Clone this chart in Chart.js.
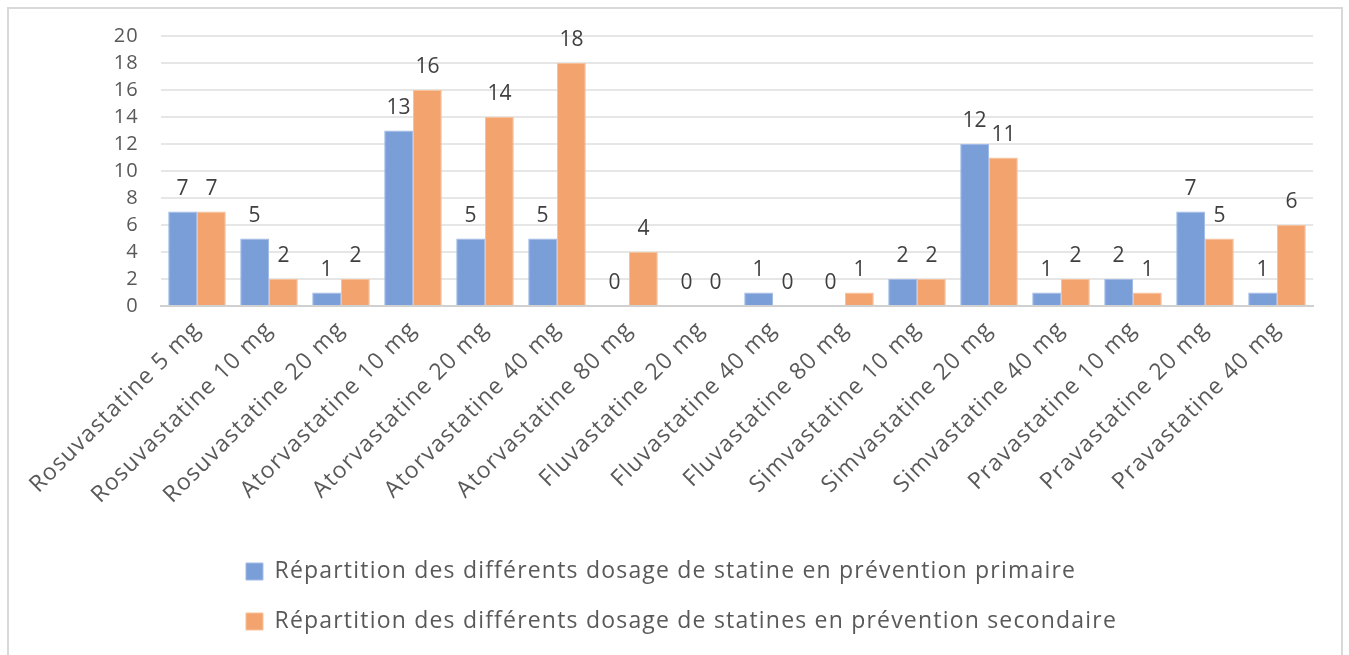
<!DOCTYPE html>
<html>
<head>
<meta charset="utf-8">
<script src="https://cdn.jsdelivr.net/npm/chart.js@4/dist/chart.umd.min.js"></script>
<style>
  html, body { margin: 0; padding: 0; background: #ffffff; }
  #wrap { position: relative; width: 1349px; height: 655px; overflow: hidden; background: #ffffff; }
  #frame { position: absolute; left: 7px; top: 7px; width: 1332px; height: 700px; border: 2px solid #d9d9d9; box-sizing: content-box; }
  canvas { position: absolute; left: 0; top: 0; }
</style>
</head>
<body>
<div id="wrap">
  <div id="frame"></div>
  <canvas id="chart" width="1349" height="655"></canvas>
</div>
<script>
// Dosages de statines
const categories = [
  'Rosuvastatine 5 mg', 'Rosuvastatine 10 mg', 'Rosuvastatine 20 mg',
  'Atorvastatine 10 mg', 'Atorvastatine 20 mg', 'Atorvastatine 40 mg', 'Atorvastatine 80 mg',
  'Fluvastatine 20 mg', 'Fluvastatine 40 mg', 'Fluvastatine 80 mg',
  'Simvastatine 10 mg', 'Simvastatine 20 mg', 'Simvastatine 40 mg',
  'Pravastatine 10 mg', 'Pravastatine 20 mg', 'Pravastatine 40 mg'
];
const primaire   = [7, 5, 1, 13, 5, 5, 0, 0, 1, 0, 2, 12, 1, 2, 7, 1];
const secondaire = [7, 2, 2, 16, 14, 18, 4, 0, 0, 1, 2, 11, 2, 1, 5, 6];
const seriesNames = [
  'Répartition des différents dosage de statine en prévention primaire',
  'Répartition des différents dosage de statines en prévention secondaire'
];
const yTicks = [0, 2, 4, 6, 8, 10, 12, 14, 16, 18, 20];

const FONT = "'Open Sans', 'Liberation Sans', sans-serif";
const TEXT_SPACING = '1.2px';

// Slightly open letter spacing for the category and legend text
const textSpacing = {
  id: 'textSpacing',
  beforeInit(chart) { chart.ctx.letterSpacing = TEXT_SPACING; },
  beforeUpdate(chart) { chart.ctx.letterSpacing = TEXT_SPACING; },
  beforeDraw(chart) { chart.ctx.letterSpacing = TEXT_SPACING; }
};

// Value labels above each bar
const valueLabels = {
  id: 'valueLabels',
  afterDatasetsDraw(chart) {
    const ctx = chart.ctx;
    ctx.save();
    ctx.letterSpacing = '0px';
    ctx.font = '21px ' + FONT;
    ctx.fillStyle = '#404040';
    ctx.textAlign = 'center';
    ctx.textBaseline = 'alphabetic';
    chart.data.datasets.forEach((ds, di) => {
      chart.getDatasetMeta(di).data.forEach((bar, i) => {
        ctx.fillText(String(ds.data[i]), bar.x, bar.y - 17);
      });
    });
    ctx.restore();
  }
};

// Keep both legend rows starting at the same x
const alignLegendRows = {
  id: 'alignLegendRows',
  afterUpdate(chart) {
    const lg = chart.legend;
    if (lg && lg.lineWidths && lg.lineWidths.length) {
      const m = Math.max(...lg.lineWidths);
      for (let i = 0; i < lg.lineWidths.length; i++) lg.lineWidths[i] = m;
    }
  }
};

new Chart(document.getElementById('chart'), {
  type: 'bar',
  data: {
    labels: categories,
    datasets: [
      {
        label: seriesNames[0],
        data: primaire,
        backgroundColor: '#7a9ed8',
        borderColor: '#a3bbe6',
        borderWidth: 1
      },
      {
        label: seriesNames[1],
        data: secondaire,
        backgroundColor: '#f3a46e',
        borderColor: '#f7c19b',
        borderWidth: 1
      }
    ]
  },
  options: {
    responsive: false,
    animation: false,
    layout: { padding: { left: 50, right: 36, top: 36, bottom: 12 } },
    datasets: {
      bar: { categoryPercentage: 0.8, barPercentage: 1.0 }
    },
    scales: {
      x: {
        afterFit(scale) { scale.height = 227; },
        grid: { display: false, drawTicks: false },
        border: { display: true, color: '#d0d0d0', width: 2 },
        ticks: {
          color: '#595959',
          font: { family: FONT, size: 23 },
          maxRotation: 45,
          minRotation: 45,
          autoSkip: false,
          padding: 10
        }
      },
      y: {
        min: 0,
        max: 20,
        afterBuildTicks(scale) { scale.ticks = yTicks.map(v => ({ value: v })); },
        afterFit(scale) { scale.width = 111; },
        grid: { color: '#e6e6e6', lineWidth: 2, drawTicks: false },
        border: { display: false },
        ticks: {
          color: '#595959',
          font: { family: FONT, size: 20 },
          padding: 22
        }
      }
    },
    plugins: {
      tooltip: { enabled: false },
      legend: {
        position: 'bottom',
        labels: {
          color: '#595959',
          font: { family: FONT, size: 23 },
          boxWidth: 17,
          boxHeight: 17,
          padding: 27
        }
      }
    }
  },
  plugins: [textSpacing, valueLabels, alignLegendRows]
});
</script>
</body>
</html>
